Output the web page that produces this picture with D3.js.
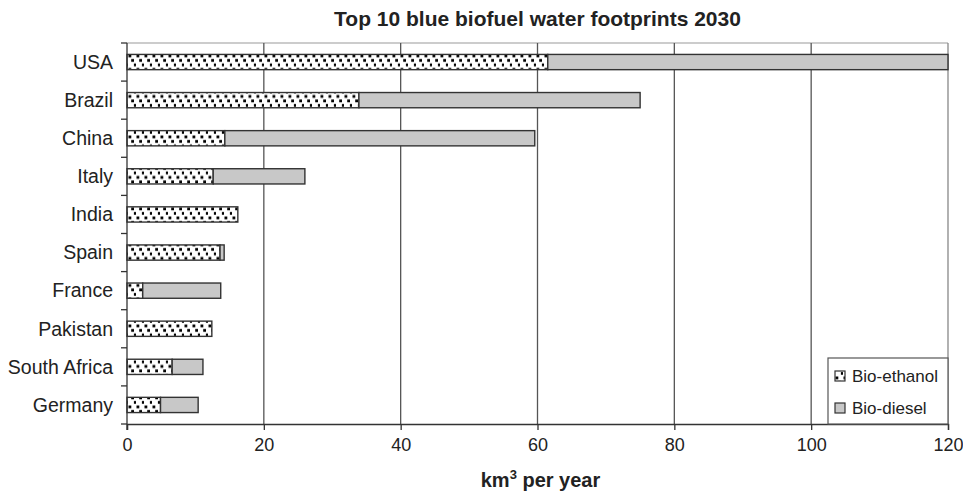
<!DOCTYPE html>
<html>
<head>
<meta charset="utf-8">
<script src="https://cdn.jsdelivr.net/npm/d3@7"></script>
<style>
  body { margin: 0; background: #fff; }
  text { font-family: "Liberation Sans", Arial, sans-serif; }
</style>
</head>
<body>
<div id="chart"></div>
<script>
// data
const countries = ["USA", "Brazil", "China", "Italy", "India", "Spain", "France", "Pakistan", "South Africa", "Germany"];
const bioEthanol = [61.5, 33.9, 14.3, 12.6, 16.2, 13.6, 2.3, 12.4, 6.6, 4.9];
const bioDiesel  = [58.5, 41.1, 45.3, 13.4, 0, 0.6, 11.4, 0, 4.5, 5.5];
const xTicks = [0, 20, 40, 60, 80, 100, 120];
const seriesNames = ["Bio-ethanol", "Bio-diesel"];

const width = 963, height = 492;
const margin = {top: 43, right: 15, bottom: 68, left: 127};

const svg = d3.select("#chart").append("svg")
    .attr("width", width)
    .attr("height", height);

// confetti pattern for bio-ethanol
const defs = svg.append("defs");
const pat = defs.append("pattern")
    .attr("id", "confetti")
    .attr("patternUnits", "userSpaceOnUse")
    .attr("width", 8)
    .attr("height", 13.5);
pat.append("rect").attr("width", 8).attr("height", 13.5).attr("fill", "#fff");
[[0.5, 0.5], [3.2, 5], [5.9, 9.5]].forEach(p => {
  pat.append("rect").attr("x", p[0]).attr("y", p[1]).attr("width", 2.8).attr("height", 2.8).attr("fill", "#000");
});

const x = d3.scaleLinear()
    .domain([0, 120])
    .range([margin.left, width - margin.right]);

const y = d3.scaleBand()
    .domain(countries)
    .range([margin.top, height - margin.bottom])
    .paddingInner(0.6)
    .paddingOuter(0.3);

const fills = ["url(#confetti)", "#c8c8c8"];

// plot frame top
svg.append("line")
    .attr("x1", margin.left).attr("x2", width - margin.right)
    .attr("y1", margin.top).attr("y2", margin.top)
    .attr("stroke", "#999").attr("stroke-width", 1.2);

// gridlines
svg.append("g")
  .selectAll("line")
  .data(xTicks.slice(1))
  .join("line")
    .attr("x1", d => x(d)).attr("x2", d => x(d))
    .attr("y1", margin.top).attr("y2", height - margin.bottom)
    .attr("stroke", d => d === 120 ? "#888" : "#555")
    .attr("stroke-width", 1.3);

// stacked bars
const stackData = countries.map((c, i) => ({country: c, eth: bioEthanol[i], die: bioDiesel[i]}));
const stacked = d3.stack().keys(["eth", "die"])(stackData);

svg.append("g")
  .selectAll("g")
  .data(stacked)
  .join("g")
    .attr("fill", (d, i) => fills[i])
  .selectAll("rect")
  .data(d => d.filter(v => v[1] - v[0] > 0))
  .join("rect")
    .attr("x", d => x(d[0]))
    .attr("y", d => y(d.data.country))
    .attr("width", d => x(d[1]) - x(d[0]))
    .attr("height", y.bandwidth())
    .attr("stroke", "#333")
    .attr("stroke-width", 1.4);

// y axis
const yAxisG = svg.append("g").attr("transform", `translate(${margin.left},0)`);
yAxisG.append("line")
    .attr("x1", 0).attr("x2", 0)
    .attr("y1", margin.top).attr("y2", height - margin.bottom + 6)
    .attr("stroke", "#333").attr("stroke-width", 1.3);
const boundaries = d3.range(countries.length + 1).map(i => margin.top + i * y.step());
yAxisG.selectAll(".tk")
  .data(boundaries)
  .join("line")
    .attr("x1", -6).attr("x2", 0)
    .attr("y1", d => d).attr("y2", d => d)
    .attr("stroke", "#333").attr("stroke-width", 1.3);
yAxisG.selectAll("text")
  .data(countries)
  .join("text")
    .attr("x", -14)
    .attr("y", d => y(d) + y.bandwidth() / 2)
    .attr("dy", "0.35em")
    .attr("text-anchor", "end")
    .attr("font-size", 19.5)
    .attr("fill", "#222")
    .text(d => d);

// x axis
const xAxis = d3.axisBottom(x).tickValues(xTicks).tickSize(6).tickPadding(8).tickFormat(d3.format("d"));
const xAxisG = svg.append("g")
    .attr("transform", `translate(0,${height - margin.bottom})`)
    .call(xAxis);
xAxisG.select(".domain").attr("stroke", "#333").attr("stroke-width", 1.3);
xAxisG.selectAll(".tick line").attr("stroke", "#333").attr("stroke-width", 1.3);
xAxisG.selectAll(".tick text")
    .attr("font-size", 18)
    .attr("font-family", "Liberation Sans, Arial, sans-serif")
    .attr("fill", "#222");

// title
svg.append("text")
    .attr("x", (margin.left + width - margin.right) / 2)
    .attr("y", 26)
    .attr("text-anchor", "middle")
    .attr("font-size", 21)
    .attr("font-weight", "bold")
    .attr("fill", "#222")
    .text("Top 10 blue biofuel water footprints 2030");

// axis title
const xt = svg.append("text")
    .attr("x", (margin.left + width - margin.right) / 2 + 3)
    .attr("y", 487)
    .attr("text-anchor", "middle")
    .attr("font-size", 20)
    .attr("font-weight", "bold")
    .attr("fill", "#222");
xt.append("tspan").text("km");
xt.append("tspan").attr("dy", -8).attr("font-size", 13).text("3");
xt.append("tspan").attr("dy", 8).text(" per year");

// legend
const lg = svg.append("g").attr("transform", "translate(828,358)");
lg.append("rect")
    .attr("width", 120).attr("height", 66)
    .attr("fill", "#fff").attr("stroke", "#555").attr("stroke-width", 1.2);
const items = lg.selectAll(".item")
  .data(seriesNames)
  .join("g")
    .attr("transform", (d, i) => `translate(7,${18 + i * 32})`);
items.append("rect")
    .attr("x", 0).attr("y", -5)
    .attr("width", 10).attr("height", 10)
    .attr("fill", (d, i) => fills[i])
    .attr("stroke", "#333").attr("stroke-width", 1.2);
items.append("text")
    .attr("x", 17)
    .attr("dy", "0.35em")
    .attr("font-size", 17)
    .attr("fill", "#222")
    .text(d => d);
</script>
</body>
</html>
